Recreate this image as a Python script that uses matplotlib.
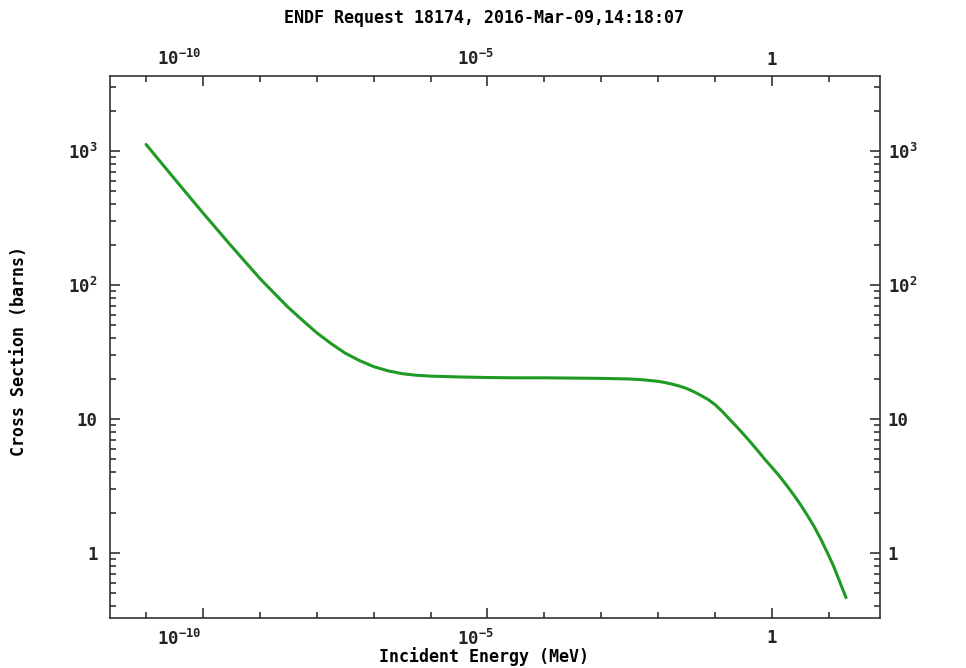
import matplotlib
matplotlib.use("Agg")
import matplotlib.pyplot as plt
import matplotlib.ticker as mticker
from matplotlib.transforms import ScaledTranslation

# values: log10 of energy (MeV) and cross section (barns)
log_energy = [-11.0, -10.5, -10.0, -9.5, -9.0, -8.75, -8.5, -8.25, -8.0, -7.75,
              -7.5, -7.25, -7.0, -6.75, -6.5, -6.25, -6.0, -5.5, -5.0, -4.5,
              -4.0, -3.5, -3.0, -2.5, -2.25, -2.0, -1.875, -1.75, -1.625, -1.5,
              -1.375, -1.25, -1.125, -1.0, -0.875, -0.75, -0.625, -0.5, -0.375,
              -0.25, -0.125, 0.0, 0.125, 0.25, 0.375, 0.5, 0.625, 0.75, 0.875,
              1.0, 1.075, 1.15, 1.225, 1.301]
xs_barns = [1120, 620, 345, 195, 112, 87, 68, 54.5, 44, 36.6,
            31, 27.3, 24.6, 22.9, 21.8, 21.2, 20.9, 20.6, 20.4, 20.3,
            20.3, 20.2, 20.1, 19.9, 19.6, 19.1, 18.7, 18.2, 17.6, 16.9,
            16.0, 15.0, 14.0, 12.8, 11.4, 10.0, 8.8, 7.7, 6.7,
            5.8, 5.0, 4.35, 3.77, 3.23, 2.74, 2.3, 1.9, 1.55, 1.23,
            0.95, 0.81, 0.675, 0.56, 0.465]
energy_mev = [10 ** v for v in log_energy]

xtick_vals = [1e-10, 1e-5, 1]
xtick_labels = [r'$10^{-10}$', r'$10^{-5}$', '1']
ytick_vals = [1, 10, 100, 1000]
ytick_labels = ['1', '10', r'$10^{2}$', r'$10^{3}$']

title = 'ENDF Request 18174, 2016-Mar-09,14:18:07'
xlabel = 'Incident Energy (MeV)'
ylabel = 'Cross Section (barns)'

plt.rcParams['font.family'] = 'DejaVu Sans Mono'
plt.rcParams['font.weight'] = 'bold'
plt.rcParams['mathtext.fontset'] = 'custom'
plt.rcParams['mathtext.rm'] = 'DejaVu Sans Mono:bold'
plt.rcParams['mathtext.it'] = 'DejaVu Sans Mono:bold'
plt.rcParams['mathtext.bf'] = 'DejaVu Sans Mono:bold'

W, H = 966, 668
fig = plt.figure(figsize=(W / 100, H / 100), dpi=100)
left, right, top, bottom = 110, 880, 76, 618
ax = fig.add_axes([left / W, 1 - bottom / H, (right - left) / W, (bottom - top) / H])

ax.plot(energy_mev, xs_barns, color='#1f9a24', lw=2.2,
        solid_capstyle='round', solid_joinstyle='round')

ax.set_xscale('log')
ax.set_yscale('log')
ax.set_xlim(10**-11.634, 10**1.898)
ax.set_ylim(10**-0.485, 10**3.56)

ax.xaxis.set_major_locator(mticker.FixedLocator(xtick_vals))
ax.xaxis.set_major_formatter(mticker.FixedFormatter(xtick_labels))
ax.xaxis.set_minor_locator(mticker.LogLocator(base=10, subs=(1.0,), numticks=40))
ax.xaxis.set_minor_formatter(mticker.NullFormatter())

ax.yaxis.set_major_locator(mticker.FixedLocator(ytick_vals))
ax.yaxis.set_major_formatter(mticker.FixedFormatter(ytick_labels))
ax.yaxis.set_minor_locator(mticker.LogLocator(base=10, subs=range(2, 10), numticks=40))
ax.yaxis.set_minor_formatter(mticker.NullFormatter())

ax.tick_params(which='both', direction='in', top=True, right=True,
               labeltop=True, labelright=True, colors='#222222', width=1.1,
               labelsize=12.5)
ax.tick_params(which='major', length=7)
ax.tick_params(which='minor', length=4.5)
ax.tick_params(axis='x', which='major', pad=8)
ax.tick_params(axis='y', which='major', pad=9)

for sp in ax.spines.values():
    sp.set_color('#333333')
    sp.set_linewidth(1.2)

# shift labels to where the reference puts them
x_shift = [-24, -12, 0]
xticks = ax.xaxis.get_major_ticks(len(xtick_vals))
for i, t in enumerate(xticks):
    off = ScaledTranslation(x_shift[i] / 100, 0, fig.dpi_scale_trans)
    t.label1.set_transform(t.label1.get_transform() + off)
    off2 = ScaledTranslation(x_shift[i] / 100, -4 / 100, fig.dpi_scale_trans)
    t.label2.set_transform(t.label2.get_transform() + off2)
for t in ax.yaxis.get_major_ticks(len(ytick_vals)):
    off = ScaledTranslation(-5 / 100, 0, fig.dpi_scale_trans)
    t.label2.set_transform(t.label2.get_transform() + off)

fig.text(484 / W, 1 - 18 / H, title, ha='center', va='center', fontsize=12)
fig.text(484 / W, 1 - 657 / H, xlabel, ha='center', va='center', fontsize=12)
fig.text(19 / W, 1 - 351 / H, ylabel, ha='center', va='center', fontsize=12,
         rotation=90)

fig.savefig('out.png', dpi=100, facecolor='white')
